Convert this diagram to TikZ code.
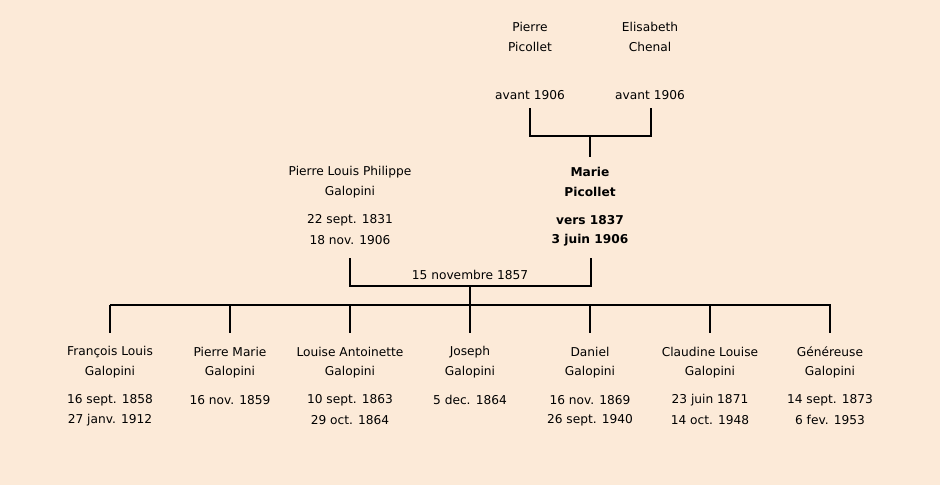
\documentclass[tikz,border=0pt]{standalone}
\usepackage{fontspec}
\setmainfont{DejaVu Sans}
\definecolor{bg}{RGB}{252,234,216}
\begin{document}
\begin{tikzpicture}[x=1pt,y=-1pt,
  txt/.style={font=\fontsize{12.2}{14}\selectfont, inner sep=0pt, anchor=center},
  btxt/.style={txt, font=\fontsize{12.2}{14}\selectfont\bfseries},
  ln/.style={line width=1.8pt}]
\fill[bg] (0,0) rectangle (940,485);
\useasboundingbox (0,0) rectangle (940,485);
% grandparents
\node[txt] (pp1) at (530,27) {Pierre};
\node[txt] (pp2) at (530,47) {Picollet};
\node[txt] (ppd) at (530,95) {avant 1906};
\node[txt] (ec1) at (650,27) {Elisabeth};
\node[txt] (ec2) at (650,47) {Chenal};
\node[txt] (ecd) at (650,95) {avant 1906};
\coordinate (gA) at (530,108);
\coordinate (gB) at (651,108);
\coordinate (gM) at (590,136);
\coordinate (gT) at (590,157);
\draw[ln] (gA) -- (gA|-gM) -- (gB|-gM) -- (gB);
\draw[ln] (gM) -- (gT);
% parents
\node[txt] (f1) at (350,172) {Pierre Louis Philippe};
\node[txt] (f2) at (350,192) {Galopini};
\node[txt] (fd1) at (350,220) {22 sept. 1831};
\node[txt] (fd2) at (350,240) {18 nov. 1906};
\node[btxt] (m1) at (590,172) {Marie};
\node[btxt] (m2) at (590,192) {Picollet};
\node[btxt] (md1) at (590,220) {vers 1837};
\node[btxt] (md2) at (590,240) {3 juin 1906};
\coordinate (pA) at (350,258);
\coordinate (pB) at (591,258);
\coordinate (pM) at (470,286);
\coordinate (pT) at (470,305);
\draw[ln] (pA) -- (pA|-pM) -- (pB|-pM) -- (pB);
\node[txt] (mar) at (470,275) {15 novembre 1857};
\draw[ln] (pM) -- (pT);
% children bar
\coordinate (bL) at (110,305);
\coordinate (bR) at (831,305);
\draw[ln] (bL) -- (bR);
\foreach \x/\n/\a/\b/\c/\d in {
  110/c1/François Louis/Galopini/16 sept. 1858/27 janv. 1912,
  230/c2/Pierre Marie/Galopini/16 nov. 1859/,
  350/c3/Louise Antoinette/Galopini/10 sept. 1863/29 oct. 1864,
  470/c4/Joseph/Galopini/5 dec. 1864/,
  590/c5/Daniel/Galopini/16 nov. 1869/26 sept. 1940,
  710/c6/Claudine Louise/Galopini/23 juin 1871/14 oct. 1948,
  830/c7/Généreuse/Galopini/14 sept. 1873/6 fev. 1953}{
  \coordinate (\n top) at (\x,305);
  \coordinate (\n bot) at (\x,333);
  \draw[ln] (\n top) -- (\n bot);
  \node[txt] (\n a) at (\x,352) {\a};
  \node[txt] (\n b) at (\x,372) {\b};
  \node[txt] (\n c) at (\x,400) {\c};
  \node[txt] (\n d) at (\x,420) {\d};
}
\end{tikzpicture}
\end{document}
